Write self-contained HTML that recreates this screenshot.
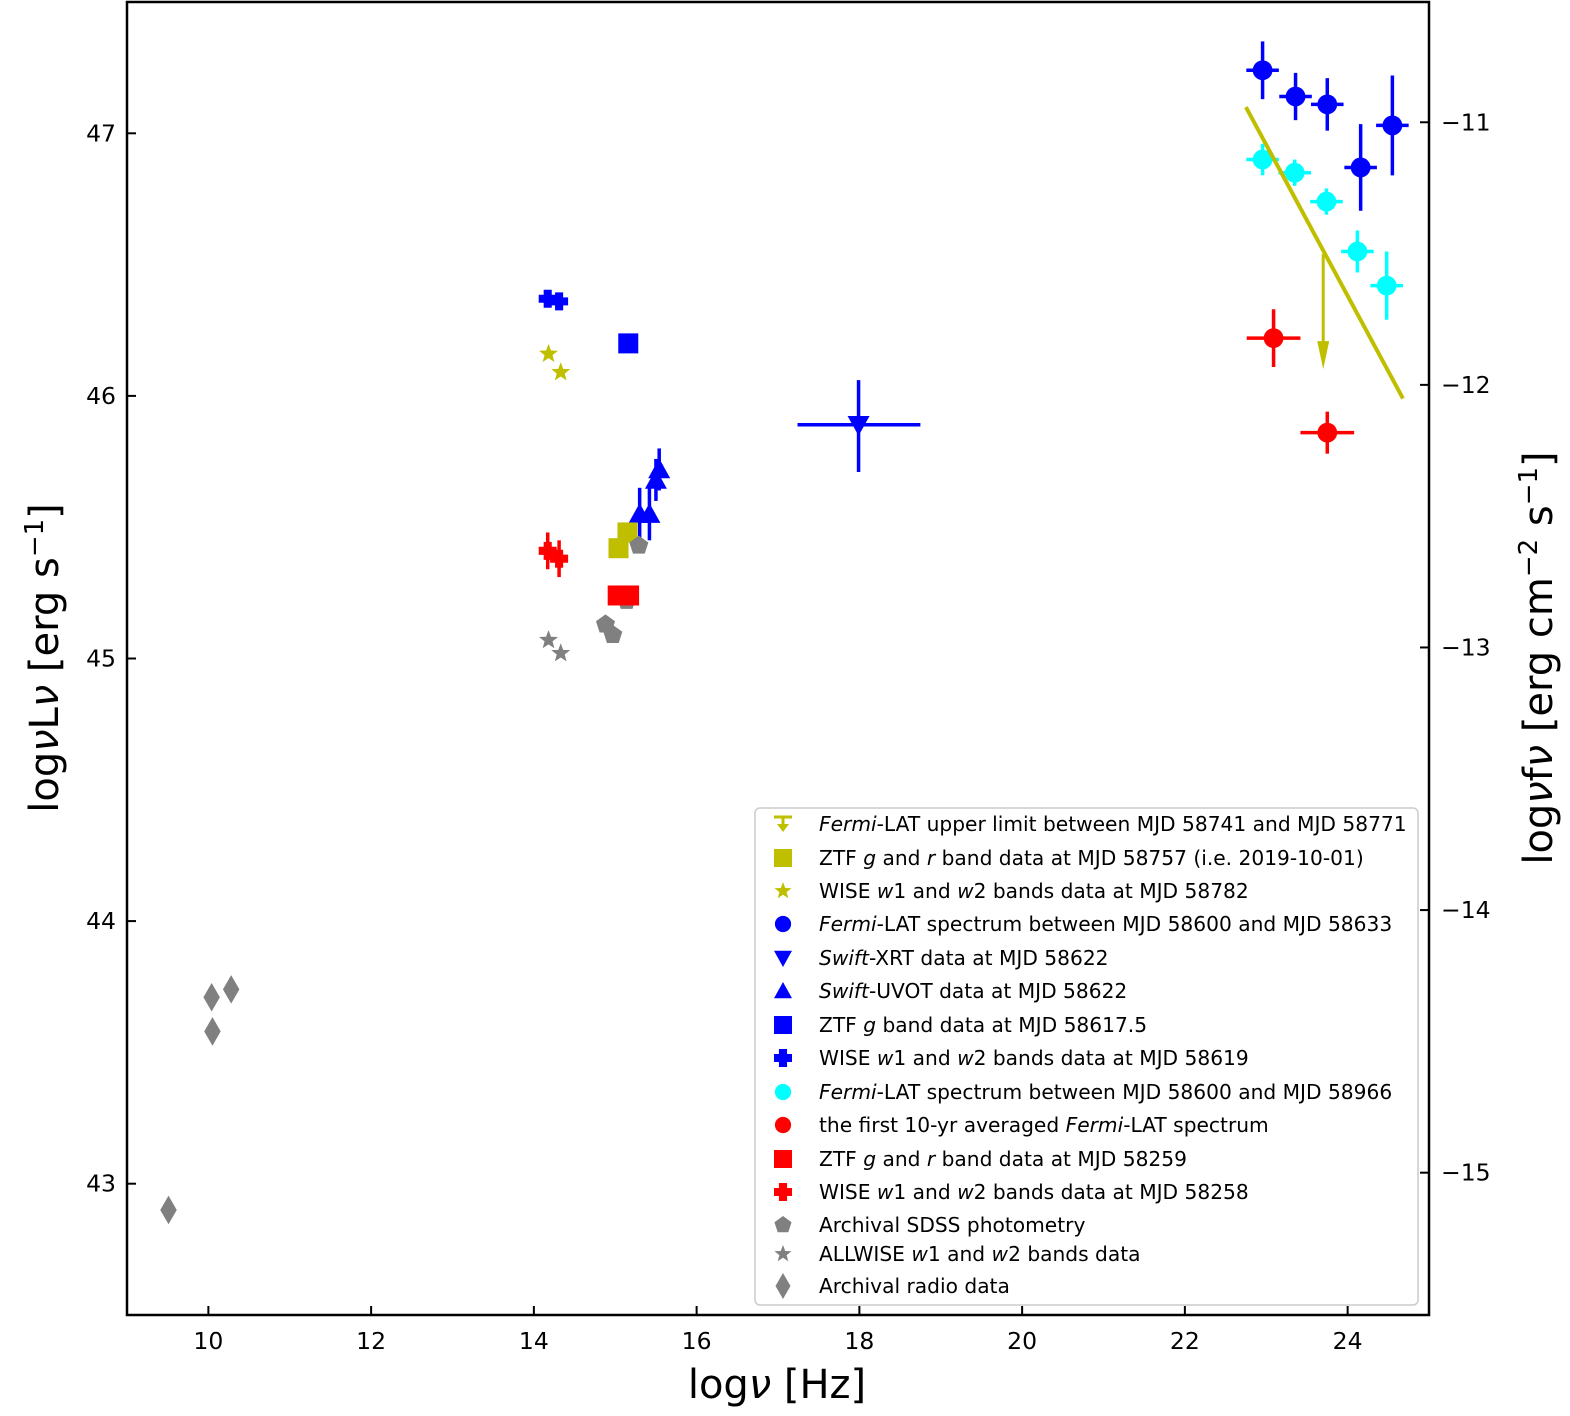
<!DOCTYPE html>
<html><head><meta charset="utf-8"><style>
html,body{margin:0;padding:0;background:#fff;}
svg{display:block;font-family:"DejaVu Sans","Liberation Sans",sans-serif;}
</style></head><body>
<svg id="chart" width="1570" height="1416" viewBox="0 0 1570 1416" xmlns="http://www.w3.org/2000/svg">
<g id="marks"></g>
<g id="axes"></g>
<g id="legend"></g>
<text x="777" y="1398" font-size="40" text-anchor="middle">log<tspan font-style="italic">ν</tspan> [Hz]</text>
<text transform="translate(58,658) rotate(-90)" font-size="40" text-anchor="middle">log<tspan font-style="italic">ν</tspan>L<tspan font-style="italic">ν</tspan> [erg s<tspan baseline-shift="super" font-size="26">−1</tspan>]</text>
<text transform="translate(1552,658) rotate(-90)" font-size="40" text-anchor="middle">log<tspan font-style="italic">ν</tspan>f<tspan font-style="italic">ν</tspan> [erg cm<tspan baseline-shift="super" font-size="26">−2</tspan> s<tspan baseline-shift="super" font-size="26">−1</tspan>]</text>
</svg>
<script>
const xTicks=[10,12,14,16,18,20,22,24];
const yTicksLeft=[43,44,45,46,47];
const yTicksRight=[-15,-14,-13,-12,-11];
const fermiBlueX=[22.955,23.36,23.75,24.16,24.55];
const fermiBlueY=[47.24,47.14,47.11,46.87,47.03];
const fermiBlueErr=[0.11,0.09,0.1,0.165,0.19];
const fermiCyanX=[22.955,23.35,23.74,24.12,24.48];
const fermiCyanY=[46.90,46.85,46.74,46.55,46.42];
const fermiCyanErr=[0.06,0.05,0.05,0.08,0.13];
const fermiRedX=[23.09,23.75];
const fermiRedY=[46.22,45.86];
const fermiRedErr=[0.11,0.08];
const ulLineX=[22.75,24.68];
const ulLineY=[47.10,45.99];
const ulArrowX=[23.70];
const ulArrowY=[46.54];
const xrtX=[17.99],xrtY=[45.89],xrtXlo=[17.24],xrtXhi=[18.75],xrtYlo=[45.71],xrtYhi=[46.06];
const uvotX=[15.30,15.42,15.54,15.50];
const uvotY=[45.55,45.55,45.72,45.68];
const ztfBlueX=[15.16],ztfBlueY=[46.20];
const wiseBlueX=[14.17,14.31],wiseBlueY=[46.37,46.36];
const wiseYelX=[14.18,14.33],wiseYelY=[46.16,46.09];
const ztfYelX=[15.04,15.15],ztfYelY=[45.42,45.48];
const ztfRedX=[15.03,15.17],ztfRedY=[45.24,45.24];
const wiseRedX=[14.17,14.31],wiseRedY=[45.41,45.38];
const sdssX=[14.88,14.97,15.29,15.14],sdssY=[45.13,45.09,45.43,45.22];
const allwiseX=[14.18,14.33],allwiseY=[45.07,45.02];
const radioX=[9.51,10.04,10.05,10.28],radioY=[42.90,43.71,43.58,43.74];

const L=127,R=1429,T=2,B=1315;
const sx=v=>L+(v-9)/(25-9)*(R-L);
const sy=v=>B-(v-42.5)/(47.5-42.5)*(B-T);
const syR=v=>sy(v+58.042);
const NS="http://www.w3.org/2000/svg";
function el(p,t,a){const e=document.createElementNS(NS,t);for(const k in a)e.setAttribute(k,a[k]);p.appendChild(e);return e;}
const M=document.getElementById('marks'),A=document.getElementById('axes'),G=document.getElementById('legend');
const BLUE='#0000ff',CYAN='#00ffff',RED='#ff0000',YEL='#bfbf00',GRAY='#808080';
function marker(p,shape,cx,cy,c,s){
 s=s||11;let e;
 if(shape==='circle')e=el(p,'circle',{cx,cy,r:s*0.9,fill:c});
 else if(shape==='square')e=el(p,'rect',{x:cx-s,y:cy-s,width:2*s,height:2*s,fill:c});
 else if(shape==='vdown')e=el(p,'polygon',{points:`${cx-s},${cy-s*0.8} ${cx+s},${cy-s*0.8} ${cx},${cy+s}`,fill:c});
 else if(shape==='vup')e=el(p,'polygon',{points:`${cx-s},${cy+s*0.8} ${cx+s},${cy+s*0.8} ${cx},${cy-s}`,fill:c});
 else if(shape==='diamond')e=el(p,'polygon',{points:`${cx},${cy-s*1.3} ${cx+s*0.75},${cy} ${cx},${cy+s*1.3} ${cx-s*0.75},${cy}`,fill:c});
 else if(shape==='pent'){let pts=[];for(let i=0;i<5;i++){const a=-Math.PI/2+i*2*Math.PI/5;pts.push((cx+s*Math.cos(a))+','+(cy+s*Math.sin(a)));}e=el(p,'polygon',{points:pts.join(' '),fill:c});}
 else if(shape==='star'){let pts=[];for(let i=0;i<10;i++){const a=-Math.PI/2+i*Math.PI/5,r=i%2?s*0.42:s;pts.push((cx+r*Math.cos(a))+','+(cy+r*Math.sin(a)));}e=el(p,'polygon',{points:pts.join(' '),fill:c});}
 else if(shape==='plus'){const w=s*0.45;e=el(p,'path',{d:`M${cx-w},${cy-s}h${2*w}v${s-w}h${s-w}v${2*w}h${-(s-w)}v${s-w}h${-2*w}v${-(s-w)}h${-(s-w)}v${-2*w}h${s-w}z`,fill:c});}
 return e;
}
function ebar(p,x1,y1,x2,y2,c){return el(p,'line',{x1,y1,x2,y2,stroke:c,'stroke-width':3.5});}
function series(name,xs,ys,shape,c,s,yerr,xerr){
 const g=el(M,'g',{});
 xs.forEach((x,i)=>{
  const cx=sx(x),cy=sy(ys[i]);
  if(yerr){ebar(g,cx,sy(ys[i]-yerr[i]),cx,sy(ys[i]+yerr[i]),c);}
  if(xerr){ebar(g,sx(x-xerr),cy,sx(x+xerr),cy,c);}
  const m=marker(g,shape,cx,cy,c,s);
  
  
 });
}
series('fermi-lat-58600-58633',fermiBlueX,fermiBlueY,'circle',BLUE,11,fermiBlueErr,0.2);
series('fermi-lat-58600-58966',fermiCyanX,fermiCyanY,'circle',CYAN,11,fermiCyanErr,0.2);
series('fermi-lat-10yr',fermiRedX,fermiRedY,'circle',RED,11,fermiRedErr,0.33);
const ul=el(M,'line',{x1:sx(ulLineX[0]),y1:sy(ulLineY[0]),x2:sx(ulLineX[1]),y2:sy(ulLineY[1]),stroke:YEL,'stroke-width':4});

ulArrowX.forEach((x,i)=>{const cx=sx(x),cy=sy(ulArrowY[i]),cy2=cy+115;
 const a=el(M,'line',{x1:cx,y1:cy,x2:cx,y2:cy2-20,stroke:YEL,'stroke-width':3});
 
 el(M,'polygon',{points:`${cx-6},${cy2-28} ${cx+6},${cy2-28} ${cx},${cy2}`,fill:YEL});
});
xrtX.forEach((x,i)=>{const g=el(M,'g',{});
 ebar(g,sx(xrtXlo[i]),sy(xrtY[i]),sx(xrtXhi[i]),sy(xrtY[i]),BLUE);ebar(g,sx(x),sy(xrtYlo[i]),sx(x),sy(xrtYhi[i]),BLUE);
 marker(g,'vdown',sx(x),sy(xrtY[i]),BLUE,11);});
series('swift-uvot',uvotX,uvotY,'vup',BLUE,11,[0.1,0.1,0.08,0.08],null);
series('ztf-g-58617',ztfBlueX,ztfBlueY,'square',BLUE,10);
series('wise-58619',wiseBlueX,wiseBlueY,'plus',BLUE,9);
series('wise-58782',wiseYelX,wiseYelY,'star',YEL,10);
series('ztf-58757',ztfYelX,ztfYelY,'square',YEL,10);
series('archival-sdss',sdssX,sdssY,'pent',GRAY,10);
series('ztf-58259',ztfRedX,ztfRedY,'square',RED,10);
series('wise-58258',wiseRedX,wiseRedY,'plus',RED,9,[0.07,0.07],null);
series('allwise',allwiseX,allwiseY,'star',GRAY,10);
series('archival-radio',radioX,radioY,'diamond',GRAY,11);
el(A,'rect',{x:L,y:T,width:R-L,height:B-T,fill:'none',stroke:'#000','stroke-width':2.5});
xTicks.forEach(v=>{const x=sx(v);el(A,'line',{x1:x,y1:B,x2:x,y2:B-9,stroke:'#000','stroke-width':2});
 const t=el(A,'text',{x,y:B+34,'font-size':23.5,'text-anchor':'middle'});t.textContent=v;});
yTicksLeft.forEach(v=>{const y=sy(v);el(A,'line',{x1:L,y1:y,x2:L+9,y2:y,stroke:'#000','stroke-width':2});
 const t=el(A,'text',{x:L-11,y:y+8,'font-size':23.5,'text-anchor':'end'});t.textContent=v;});
yTicksRight.forEach(v=>{const y=syR(v);el(A,'line',{x1:R,y1:y,x2:R-9,y2:y,stroke:'#000','stroke-width':2});
 const t=el(A,'text',{x:R+12,y:y+8,'font-size':23.5,'text-anchor':'start'});t.textContent='−'+Math.abs(v);});
el(G,'rect',{x:755,y:808,width:663,height:497,rx:5,fill:'#fff',stroke:'#ccc','stroke-width':1.5});
const leg=[['ulim',YEL,'<tspan font-style="italic">Fermi</tspan>-LAT upper limit between MJD 58741 and MJD 58771'],
['square',YEL,'ZTF <tspan font-style="italic">g</tspan> and <tspan font-style="italic">r</tspan> band data at MJD 58757 (i.e. 2019-10-01)'],
['star',YEL,'WISE <tspan font-style="italic">w</tspan>1 and <tspan font-style="italic">w</tspan>2 bands data at MJD 58782'],
['circle',BLUE,'<tspan font-style="italic">Fermi</tspan>-LAT spectrum between MJD 58600 and MJD 58633'],
['vdown',BLUE,'<tspan font-style="italic">Swift</tspan>-XRT data at MJD 58622'],
['vup',BLUE,'<tspan font-style="italic">Swift</tspan>-UVOT data at MJD 58622'],
['square',BLUE,'ZTF <tspan font-style="italic">g</tspan> band data at MJD 58617.5'],
['plus',BLUE,'WISE <tspan font-style="italic">w</tspan>1 and <tspan font-style="italic">w</tspan>2 bands data at MJD 58619'],
['circle',CYAN,'<tspan font-style="italic">Fermi</tspan>-LAT spectrum between MJD 58600 and MJD 58966'],
['circle',RED,'the first 10-yr averaged <tspan font-style="italic">Fermi</tspan>-LAT spectrum'],
['square',RED,'ZTF <tspan font-style="italic">g</tspan> and <tspan font-style="italic">r</tspan> band data at MJD 58259'],
['plus',RED,'WISE <tspan font-style="italic">w</tspan>1 and <tspan font-style="italic">w</tspan>2 bands data at MJD 58258'],
['pent',GRAY,'Archival SDSS photometry'],
['star',GRAY,'ALLWISE <tspan font-style="italic">w</tspan>1 and <tspan font-style="italic">w</tspan>2 bands data'],
['diamond',GRAY,'Archival radio data']];
const ys=[824,858,891,924,958,991,1025,1058,1092,1125,1159,1192,1225,1254,1286];
leg.forEach((d,i)=>{const y=ys[i];const g=el(G,'g',{});
 
 if(d[0]==='ulim'){el(g,'line',{x1:774,y1:y-7,x2:792,y2:y-7,stroke:d[1],'stroke-width':3});el(g,'line',{x1:783,y1:y-7,x2:783,y2:y+2,stroke:d[1],'stroke-width':3});el(g,'polygon',{points:`777,${y} 789,${y} 783,${y+8}`,fill:d[1]});}
 else marker(g,d[0],783,y,d[1],d[0]==='diamond'?10:9);
 const t=el(g,'text',{x:819,y:y+7,'font-size':20.2});t.innerHTML=d[2];});
</script>
</body></html>
